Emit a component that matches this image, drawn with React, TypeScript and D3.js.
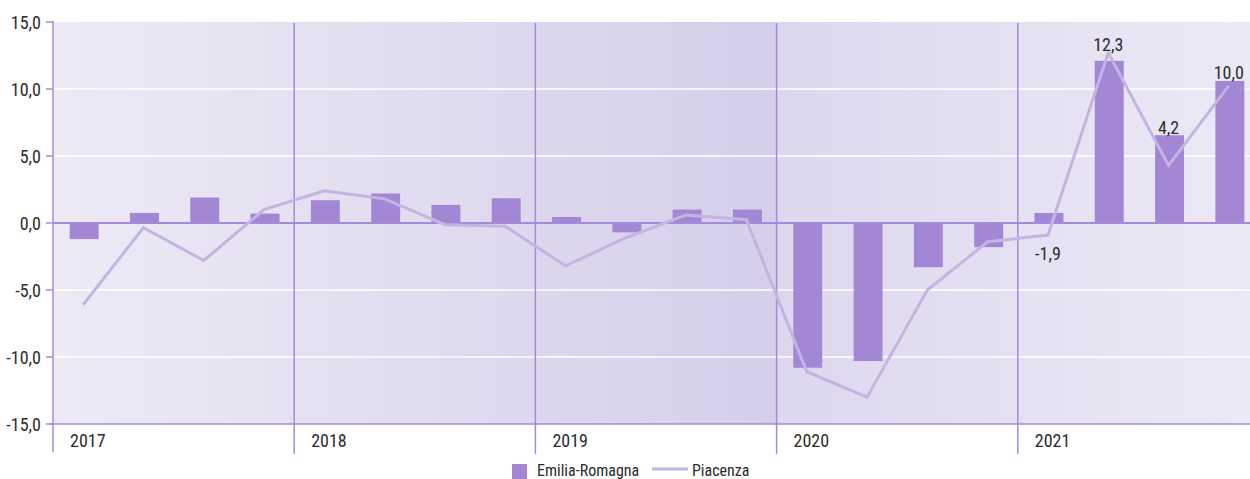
import React from "react";
import * as d3 from "d3";

const years = ["2017", "2018", "2019", "2020", "2021"];
const quarterNames = ["T1", "T2", "T3", "T4"];
const quarters = years.flatMap((y) => quarterNames.map((q) => `${y}-${q}`));

// Emilia-Romagna (bars)
const emiliaRomagna = [
  -1.2, 0.75, 1.9, 0.7,
  1.7, 2.2, 1.35, 1.85,
  0.45, -0.7, 1.0, 1.0,
  -10.8, -10.3, -3.3, -1.8,
  0.75, 12.1, 6.55, 10.6,
];

// Piacenza (line)
const piacenza = [
  -6.1, -0.35, -2.8, 1.0,
  2.4, 1.8, -0.13, -0.25,
  -3.2, -1.1, 0.6, 0.25,
  -11.1, -13.0, -5.0, -1.4,
  -0.9, 12.7, 4.3, 10.25,
];

// printed labels for the last four quarters of Piacenza
const labelQuarters = ["2021-T1", "2021-T2", "2021-T3", "2021-T4"];
const labelValues = [-1.9, 12.3, 4.2, 10.0];

const yTicks = [-15, -10, -5, 0, 5, 10, 15];

const W = 1250;
const H = 479;
const FONT = "'Liberation Sans Narrow', 'Roboto Condensed', 'DejaVu Sans Condensed', sans-serif";
const BAR = "#a387d4";
const LINE = "#c2b5e2";
const AXIS = "#a68ada";
const TEXT = "#2b2b2b";

const fmt = (v: number) => v.toFixed(1).replace(".", ",");

export default function App() {
  const left = 53;
  const step = 60.3;
  const x = d3
    .scaleBand<string>()
    .domain(quarters)
    .range([left, left + step * quarters.length])
    .paddingInner(0)
    .paddingOuter(0);
  const y = d3.scaleLinear().domain([-15, 15]).range([424, 22]);
  const bw = x.bandwidth() * 0.48;
  const cx = (q: string) => (x(q) as number) + x.bandwidth() / 2;

  const line = d3
    .line<number>()
    .x((_, i) => cx(quarters[i]))
    .y((d) => y(d));

  const yearStart = (yr: string) => x(`${yr}-T1`) as number;
  const splitX = yearStart("2020");
  const plotRight = W;

  return (
    <svg
      width={W}
      height={H}
      style={{ position: "absolute", left: 0, top: 0, fontFamily: FONT }}
    >
      <defs>
        <linearGradient id="bgL" x1="0" x2="1" y1="0" y2="0">
          <stop offset="0" stopColor="#edeaf6" />
          <stop offset="1" stopColor="#d5cee9" />
        </linearGradient>
        <linearGradient id="bgR" x1="0" x2="1" y1="0" y2="0">
          <stop offset="0" stopColor="#ddd7ee" />
          <stop offset="1" stopColor="#ece9f6" />
        </linearGradient>
      </defs>
      <rect x={left} y={y(15)} width={splitX - left} height={y(-15) - y(15)} fill="url(#bgL)" />
      <rect x={splitX} y={y(15)} width={plotRight - splitX} height={y(-15) - y(15)} fill="url(#bgR)" />

      {/* white grid */}
      {yTicks
        .filter((t) => t !== 0 && t !== 15 && t !== -15)
        .map((t) => (
          <line key={t} x1={left} x2={plotRight} y1={y(t)} y2={y(t)} stroke="#ffffff" strokeWidth={1.6} />
        ))}

      {/* year separators */}
      {years.slice(1).map((yr) => (
        <line
          key={yr}
          x1={yearStart(yr)}
          x2={yearStart(yr)}
          y1={y(15) + 1}
          y2={454}
          stroke={AXIS}
          strokeWidth={1.5}
        />
      ))}

      {/* bars */}
      {emiliaRomagna.map((v, i) => (
        <rect
          key={i}
          x={cx(quarters[i]) - bw / 2 + 1}
          y={Math.min(y(v), y(0))}
          width={bw}
          height={Math.abs(y(v) - y(0))}
          fill={BAR}
        />
      ))}

      {/* zero line */}
      <line x1={left} x2={plotRight} y1={y(0)} y2={y(0)} stroke={AXIS} strokeWidth={2} />
      {/* bottom axis */}
      <line x1={49} x2={plotRight} y1={y(-15)} y2={y(-15)} stroke={AXIS} strokeWidth={1.5} />
      {/* left axis */}
      <line x1={left} x2={left} y1={y(15) - 1} y2={452} stroke={AXIS} strokeWidth={1.5} />
      {yTicks.map((t) => (
        <g key={t}>
          <line x1={46} x2={left} y1={y(t)} y2={y(t)} stroke={AXIS} strokeWidth={1.5} />
          <text
            x={41}
            y={y(t)}
            textAnchor="end"
            dominantBaseline="central"
            fontSize={18}
            fill={TEXT}
          >
            {fmt(t)}
          </text>
        </g>
      ))}

      {/* piacenza line */}
      <path d={line(piacenza) || ""} fill="none" stroke={LINE} strokeWidth={3} />

      {/* data labels */}
      {labelQuarters.map((q, k) => {
        const i = quarters.indexOf(q);
        const yl = y(piacenza[i]);
        const v = labelValues[k];
        const yy = v < 0 ? yl + 18 : Math.min(yl, y(emiliaRomagna[i])) - 8;
        return (
          <text
            key={q}
            x={cx(q)}
            y={yy}
            textAnchor="middle"
            dominantBaseline="central"
            fontSize={18}
            fill={TEXT}
          >
            {fmt(v)}
          </text>
        );
      })}

      {/* year labels */}
      {years.map((yr) => (
        <text
          key={yr}
          x={yearStart(yr) + 17}
          y={440}
          dominantBaseline="central"
          fontSize={18}
          fill={TEXT}
        >
          {yr}
        </text>
      ))}

      {/* legend */}
      <g>
        <rect x={512} y={464} width={15} height={15} fill={BAR} />
        <text x={537} y={470} dominantBaseline="central" fontSize={16} fill={TEXT}>
          Emilia-Romagna
        </text>
        <line x1={652} x2={688} y1={469} y2={469} stroke={LINE} strokeWidth={3} />
        <text x={692} y={470} dominantBaseline="central" fontSize={16} fill={TEXT}>
          Piacenza
        </text>
      </g>
    </svg>
  );
}
